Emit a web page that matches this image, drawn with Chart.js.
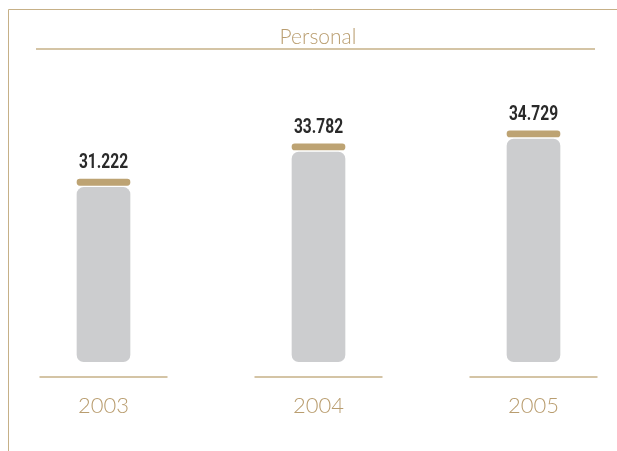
<!DOCTYPE html>
<html>
<head>
<meta charset="utf-8">
<script src="https://cdn.jsdelivr.net/npm/chart.js@4.4.0/dist/chart.umd.min.js"></script>
<style>
  html, body { margin: 0; padding: 0; background: #fff; }
  #wrap { width: 617px; height: 451px; position: relative; }
</style>
</head>
<body>
<div id="wrap"><canvas id="chart" width="617" height="451"></canvas></div>
<script>
const years = ["2003", "2004", "2005"];
const values = [31.222, 33.782, 34.729];
const valueLabels = ["31.222", "33.782", "34.729"];
const chartTitle = "Personal";

const tan = "#B99D6F";
const lineTan = "#C6B087";
const barGray = "#CCCDCF";
const capTan = "#BDA373";

const base = 18;
const capSize = 0.45;
const gap = 0.15;

// decorations: frame, title, rules and value labels
const decor = {
    id: "decor",
    beforeDraw(chart) {
        const ctx = chart.ctx;
        ctx.save();
        ctx.strokeStyle = lineTan;
        ctx.lineWidth = 1;
        ctx.beginPath();
        ctx.moveTo(8.5, 451);
        ctx.lineTo(8.5, 9.5);
        ctx.lineTo(617, 9.5);
        ctx.stroke();

        ctx.lineWidth = 1.5;
        ctx.beginPath();
        ctx.moveTo(36, 49);
        ctx.lineTo(595, 49);
        ctx.stroke();

        ctx.fillStyle = tan;
        ctx.font = "300 21px Lato";
        ctx.textAlign = "center";
        ctx.textBaseline = "alphabetic";
        ctx.fillText(chartTitle, 318, 44);

        const xs = chart.scales.x;
        years.forEach((y, i) => {
            const cx = xs.getPixelForTick(i);
            ctx.beginPath();
            ctx.moveTo(cx - 64, 377);
            ctx.lineTo(cx + 64, 377);
            ctx.stroke();
        });
        ctx.restore();
    },
    afterDatasetsDraw(chart) {
        const ctx = chart.ctx;
        const meta = chart.getDatasetMeta(1);
        ctx.save();
        ctx.fillStyle = "#2A2A2A";
        ctx.font = "bold 21px Roboto";
        ctx.textAlign = "center";
        ctx.textBaseline = "alphabetic";
        meta.data.forEach((bar, i) => {
            ctx.save();
            ctx.translate(bar.x, bar.y - 11);
            ctx.scale(0.74, 1);
            ctx.fillText(valueLabels[i], 0, 0);
            ctx.restore();
        });
        ctx.restore();
    }
};

new Chart(document.getElementById("chart").getContext("2d"), {
    type: "bar",
    data: {
        labels: years,
        datasets: [
            {
                data: values.map(v => [base, v - capSize - gap]),
                backgroundColor: barGray,
                borderRadius: 7,
                borderSkipped: false,
                barThickness: 53,
                grouped: false,
                clip: false
            },
            {
                data: values.map(v => [v - capSize, v]),
                backgroundColor: capTan,
                borderRadius: 4,
                borderSkipped: false,
                barThickness: 53,
                grouped: false,
                clip: false
            }
        ]
    },
    options: {
        responsive: false,
        animation: false,
        layout: {
            padding: { left: 103.5, right: 83.5, top: 58, bottom: 9 }
        },
        plugins: {
            legend: { display: false },
            title: { display: false },
            tooltip: { enabled: false }
        },
        scales: {
            x: {
                offset: false,
                grid: { display: false },
                border: { display: false },
                ticks: {
                    color: tan,
                    padding: 23,
                    maxRotation: 0,
                    font: { family: "Lato", size: 22, weight: "300" }
                }
            },
            y: {
                display: false,
                min: base,
                max: 40
            }
        }
    },
    plugins: [decor]
});
</script>
</body>
</html>
